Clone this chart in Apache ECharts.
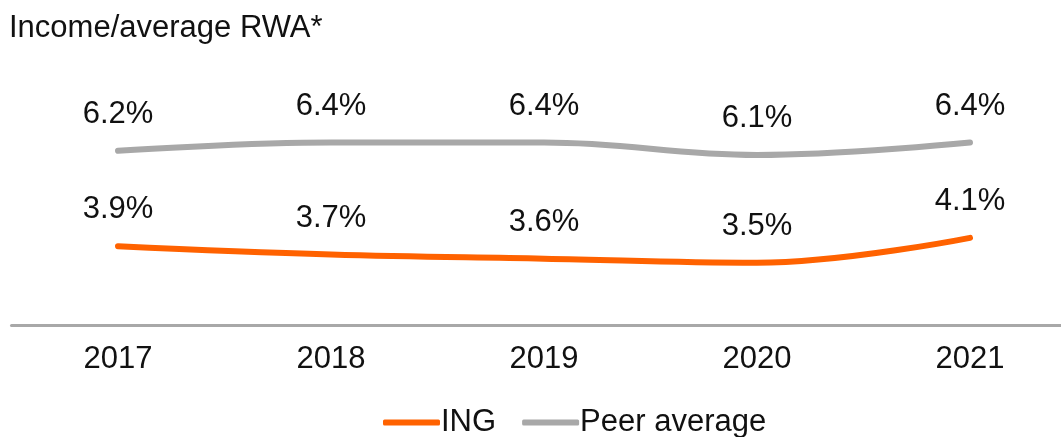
<!DOCTYPE html>
<html lang="en">
<head>
    <meta charset="utf-8">
    <title>Income/average RWA</title>
    <script src="https://cdn.jsdelivr.net/npm/echarts@6/dist/echarts.min.js"></script>
    <style type="text/css">
        html, body {
            width: 100%;
            height: 100%;
            margin: 0px;
            padding: 0px;
            background: #fff;
        }

        #main {
            width: 1061px;
            height: 437px;
        }
    </style>
</head>
<body>
<div id="main"></div>
<script>
    // data
    var years = ['2017', '2018', '2019', '2020', '2021'];
    var ingValues = [3.9, 3.7, 3.6, 3.5, 4.1];
    var peerValues = [6.2, 6.4, 6.4, 6.1, 6.4];

    var fontName = '"Liberation Sans", Arial, sans-serif';
    var orange = '#FF6200';
    var grey = '#A8A8A8';

    var myChart = echarts.init(document.getElementById('main'));

    var pointLabel = {
        show: true,
        position: 'top',
        distance: 21,
        color: '#111',
        fontFamily: fontName,
        fontSize: 31,
        formatter: function (p) {
            return p.value.toFixed(1) + '%';
        }
    };

    var option = {
        backgroundColor: '#fff',
        animation: false,
        title: {
            text: 'Income/average RWA*',
            left: 4,
            top: 8,
            textStyle: {
                color: '#111',
                fontFamily: fontName,
                fontWeight: 'normal',
                fontSize: 31
            }
        },
        legend: {
            left: 378,
            top: 402,
            itemWidth: 57,
            itemHeight: 6,
            itemGap: 26,
            icon: 'roundRect',
            textStyle: {
                color: '#111',
                fontFamily: fontName,
                fontSize: 31,
                padding: [0, 0, 0, -4]
            },
            data: ['ING', 'Peer average']
        },
        grid: {
            left: 11.5,
            right: -15.5,
            top: 117.6,
            bottom: 112,
            outerBoundsMode: 'none'
        },
        xAxis: {
            type: 'category',
            data: years,
            boundaryGap: true,
            axisLine: {
                lineStyle: { color: grey, width: 3 }
            },
            axisTick: { show: false },
            axisLabel: {
                color: '#111',
                fontFamily: fontName,
                fontSize: 31,
                margin: 19
            }
        },
        yAxis: {
            type: 'value',
            min: 2,
            max: 7,
            show: false,
            splitLine: { show: false }
        },
        series: [{
            name: 'ING',
            type: 'line',
            data: ingValues,
            smooth: 0.4,
            showSymbol: true,
            symbol: 'circle',
            symbolSize: 0,
            lineStyle: { color: orange, width: 6, cap: 'round' },
            itemStyle: { color: orange },
            label: pointLabel
        }, {
            name: 'Peer average',
            type: 'line',
            data: peerValues,
            smooth: 0.4,
            showSymbol: true,
            symbol: 'circle',
            symbolSize: 0,
            lineStyle: { color: grey, width: 6, cap: 'round' },
            itemStyle: { color: grey },
            label: pointLabel
        }]
    };

    myChart.setOption(option);
</script>
</body>
</html>
